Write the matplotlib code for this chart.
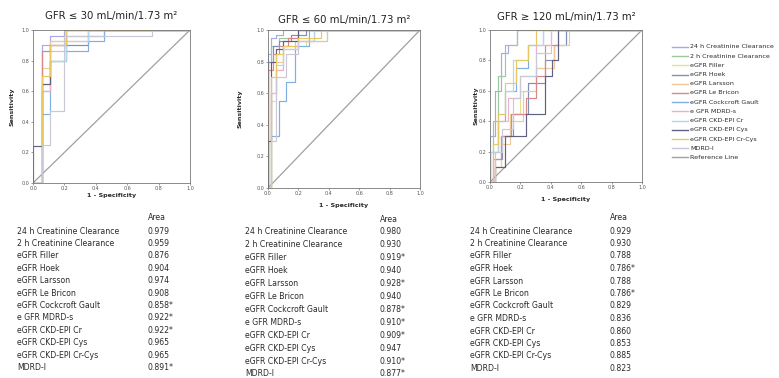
import matplotlib
matplotlib.use("Agg")
import matplotlib.pyplot as plt

W, H = 779, 378

methods = ["24 h Creatinine Clearance", "2 h Creatinine Clearance", "eGFR Filler",
           "eGFR Hoek", "eGFR Larsson", "eGFR Le Bricon", "eGFR Cockcroft Gault",
           "e GFR MDRD-s", "eGFR CKD-EPI Cr", "eGFR CKD-EPI Cys", "eGFR CKD-EPI Cr-Cys",
           "MDRD-I"]
colors = ["#a8a8e8", "#9cc89c", "#e8e08c", "#7d8fb8", "#f0c8a0", "#d88888",
          "#7fb0e0", "#f0b0c8", "#b0d8f0", "#606080", "#e8c860", "#c8c8d8"]
ref_color = "#a0a0a0"

titles = ["GFR ≤ 30 mL/min/1.73 m²", "GFR ≤ 60 mL/min/1.73 m²", "GFR ≥ 120 mL/min/1.73 m²"]

auc_p1 = ["0.979", "0.959", "0.876", "0.904", "0.974", "0.908", "0.858*", "0.922*",
          "0.922*", "0.965", "0.965", "0.891*"]
auc_p2 = ["0.980", "0.930", "0.919*", "0.940", "0.928*", "0.940", "0.878*", "0.910*",
          "0.909*", "0.947", "0.910*", "0.877*"]
auc_p3 = ["0.929", "0.930", "0.788", "0.786*", "0.788", "0.786*", "0.829", "0.836",
          "0.860", "0.853", "0.885", "0.823"]

# ROC jumps: at fpr f the sensitivity rises to t
p1_fpr = [[0.06, 0.06, 0.11, 0.20], [0.06, 0.06, 0.11, 0.21], [0.06, 0.11, 0.21, 0.35],
          [0.06, 0.11, 0.21, 0.35, 0.45], [0.06, 0.11, 0.21], [0.06, 0.06, 0.11, 0.21, 0.35],
          [0.06, 0.11, 0.21, 0.35, 0.45], [0.06, 0.11, 0.21, 0.35], [0.06, 0.11, 0.21, 0.35],
          [0.00, 0.06, 0.11, 0.21], [0.06, 0.11, 0.21], [0.06, 0.11, 0.20, 0.76]]
p1_tpr = [[0.55, 0.90, 0.96, 1.0], [0.65, 0.86, 0.93, 1.0], [0.70, 0.80, 0.93, 1.0],
          [0.60, 0.80, 0.90, 0.96, 1.0], [0.75, 0.93, 1.0], [0.50, 0.86, 0.90, 0.96, 1.0],
          [0.45, 0.80, 0.86, 0.93, 1.0], [0.60, 0.86, 0.93, 1.0], [0.65, 0.80, 0.93, 1.0],
          [0.24, 0.65, 0.90, 1.0], [0.70, 0.90, 1.0], [0.25, 0.47, 0.96, 1.0]]

p2_fpr = [[0.0, 0.02, 0.05, 0.10], [0.0, 0.02, 0.07, 0.20], [0.02, 0.05, 0.10, 0.25, 0.39],
          [0.0, 0.03, 0.07, 0.15, 0.25], [0.02, 0.05, 0.10, 0.20, 0.30],
          [0.0, 0.03, 0.07, 0.13, 0.20], [0.02, 0.07, 0.12, 0.18, 0.27],
          [0.02, 0.05, 0.10, 0.18, 0.30], [0.02, 0.05, 0.10, 0.20, 0.30],
          [0.0, 0.02, 0.05, 0.10, 0.20], [0.02, 0.05, 0.10, 0.20, 0.35],
          [0.02, 0.05, 0.12, 0.20, 0.39]]
p2_tpr = [[0.85, 0.95, 0.97, 1.0], [0.80, 0.90, 0.95, 1.0], [0.55, 0.75, 0.90, 0.93, 1.0],
          [0.80, 0.90, 0.93, 0.97, 1.0], [0.60, 0.80, 0.88, 0.93, 1.0],
          [0.75, 0.85, 0.90, 0.95, 1.0], [0.33, 0.55, 0.67, 0.90, 1.0],
          [0.60, 0.75, 0.88, 0.93, 1.0], [0.60, 0.78, 0.88, 0.93, 1.0],
          [0.30, 0.80, 0.88, 0.93, 1.0], [0.70, 0.85, 0.90, 0.95, 1.0],
          [0.30, 0.70, 0.85, 0.93, 1.0]]

p3_fpr = [[0.0, 0.03, 0.07, 0.12, 0.18], [0.0, 0.02, 0.05, 0.10, 0.18],
          [0.03, 0.07, 0.13, 0.20, 0.30, 0.42, 0.50], [0.03, 0.08, 0.15, 0.25, 0.36, 0.42, 0.50],
          [0.03, 0.07, 0.13, 0.22, 0.30, 0.42, 0.52], [0.02, 0.07, 0.14, 0.24, 0.30, 0.36, 0.45],
          [0.0, 0.05, 0.10, 0.17, 0.25, 0.35], [0.02, 0.05, 0.12, 0.20, 0.30, 0.40],
          [0.0, 0.05, 0.10, 0.15, 0.25, 0.35], [0.03, 0.10, 0.24, 0.36, 0.41, 0.45],
          [0.02, 0.05, 0.10, 0.17, 0.25, 0.30], [0.03, 0.08, 0.15, 0.20, 0.30, 0.40]]
p3_tpr = [[0.30, 0.60, 0.85, 0.90, 1.0], [0.20, 0.40, 0.70, 0.90, 1.0],
          [0.10, 0.30, 0.45, 0.60, 0.75, 0.90, 1.0], [0.15, 0.30, 0.45, 0.65, 0.80, 0.90, 1.0],
          [0.10, 0.25, 0.40, 0.60, 0.75, 0.90, 1.0], [0.15, 0.30, 0.45, 0.55, 0.70, 0.90, 1.0],
          [0.20, 0.40, 0.60, 0.75, 0.90, 1.0], [0.20, 0.40, 0.55, 0.70, 0.90, 1.0],
          [0.20, 0.45, 0.60, 0.80, 0.90, 1.0], [0.10, 0.30, 0.45, 0.70, 0.80, 1.0],
          [0.25, 0.45, 0.65, 0.80, 0.90, 1.0], [0.20, 0.35, 0.55, 0.70, 0.85, 1.0]]

ticks = [0.0, 0.2, 0.4, 0.6, 0.8, 1.0]

fig = plt.figure(figsize=(W / 100, H / 100), dpi=100)
fig.patch.set_facecolor("white")


def box(l, t, r, b):
    return [l / W, 1 - b / H, (r - l) / W, (b - t) / H]


panels = [
    dict(rect=(33, 30, 190, 183), fpr=p1_fpr, tpr=p1_tpr, auc=auc_p1, title_y=16,
         tab=(17, 148, 218, 231, 12.4), ylab_x=12, xlab_y=196),
    dict(rect=(268, 30, 420, 188), fpr=p2_fpr, tpr=p2_tpr, auc=auc_p2, title_y=20,
         tab=(245, 380, 219, 232, 12.9), ylab_x=240, xlab_y=205),
    dict(rect=(490, 30, 642, 182), fpr=p3_fpr, tpr=p3_tpr, auc=auc_p3, title_y=17,
         tab=(470, 610, 217, 231, 12.5), ylab_x=476, xlab_y=200),
]

txt = "#2a2a2a"
for i, p in enumerate(panels):
    l, t, r, b = p["rect"]
    ax = fig.add_axes(box(l, t, r, b))
    ax.set_xlim(0, 1)
    ax.set_ylim(0, 1)
    ax.plot([0, 1], [0, 1], color=ref_color, lw=0.9, zorder=1)
    for k in range(len(methods)):
        xs = [0.0] + p["fpr"][k] + [1.0]
        ys = [0.0] + p["tpr"][k] + [1.0]
        ax.plot(xs, ys, drawstyle="steps-post", color=colors[k], lw=0.85, zorder=2)
    ax.set_xticks(ticks)
    ax.set_yticks(ticks)
    ax.set_xticklabels([f"{v:.1f}" for v in ticks])
    ax.set_yticklabels([f"{v:.1f}" for v in ticks])
    ax.tick_params(labelsize=3.5, length=1.5, width=0.4, pad=1, colors="#555555")
    for s in ax.spines.values():
        s.set_color("#777777")
        s.set_linewidth(0.6)
    fig.text((l + r) / 2 / W, 1 - p["title_y"] / H, titles[i], ha="center", va="center",
             fontsize=7.3, color="#222222")
    fig.text(p["ylab_x"] / W, 1 - (t + b) / 2 / H, "Sensitivity", rotation=90,
             ha="center", va="center", fontsize=4.6, color=txt, fontweight="bold")
    fig.text((l + r) / 2 / W, 1 - p["xlab_y"] / H, "1 - Specificity", ha="center",
             va="center", fontsize=4.6, color=txt, fontweight="bold")
    lx, vx, hy, ry, dy = p["tab"]
    fig.text(vx / W, 1 - hy / H, "Area", ha="left", va="center", fontsize=5.6, color=txt)
    for k, name in enumerate(methods):
        y = 1 - (ry + k * dy) / H
        fig.text(lx / W, y, name, ha="left", va="center", fontsize=5.6, color=txt)
        fig.text(vx / W, y, p["auc"][k], ha="left", va="center", fontsize=5.6, color=txt)

# legend
leg_names = methods + ["Reference Line"]
leg_colors = colors + [ref_color]
lax = fig.add_axes([0, 0, 1, 1], facecolor="none")
lax.set_xlim(0, W)
lax.set_ylim(H, 0)
lax.axis("off")
for k, (nm, c) in enumerate(zip(leg_names, leg_colors)):
    y = 47 + k * 9.2
    lax.plot([672, 688], [y, y], color=c, lw=1.0)
    lax.text(690, y, nm, ha="left", va="center", fontsize=4.6, color=txt)

fig.savefig("out.png", dpi=100, facecolor="white")
